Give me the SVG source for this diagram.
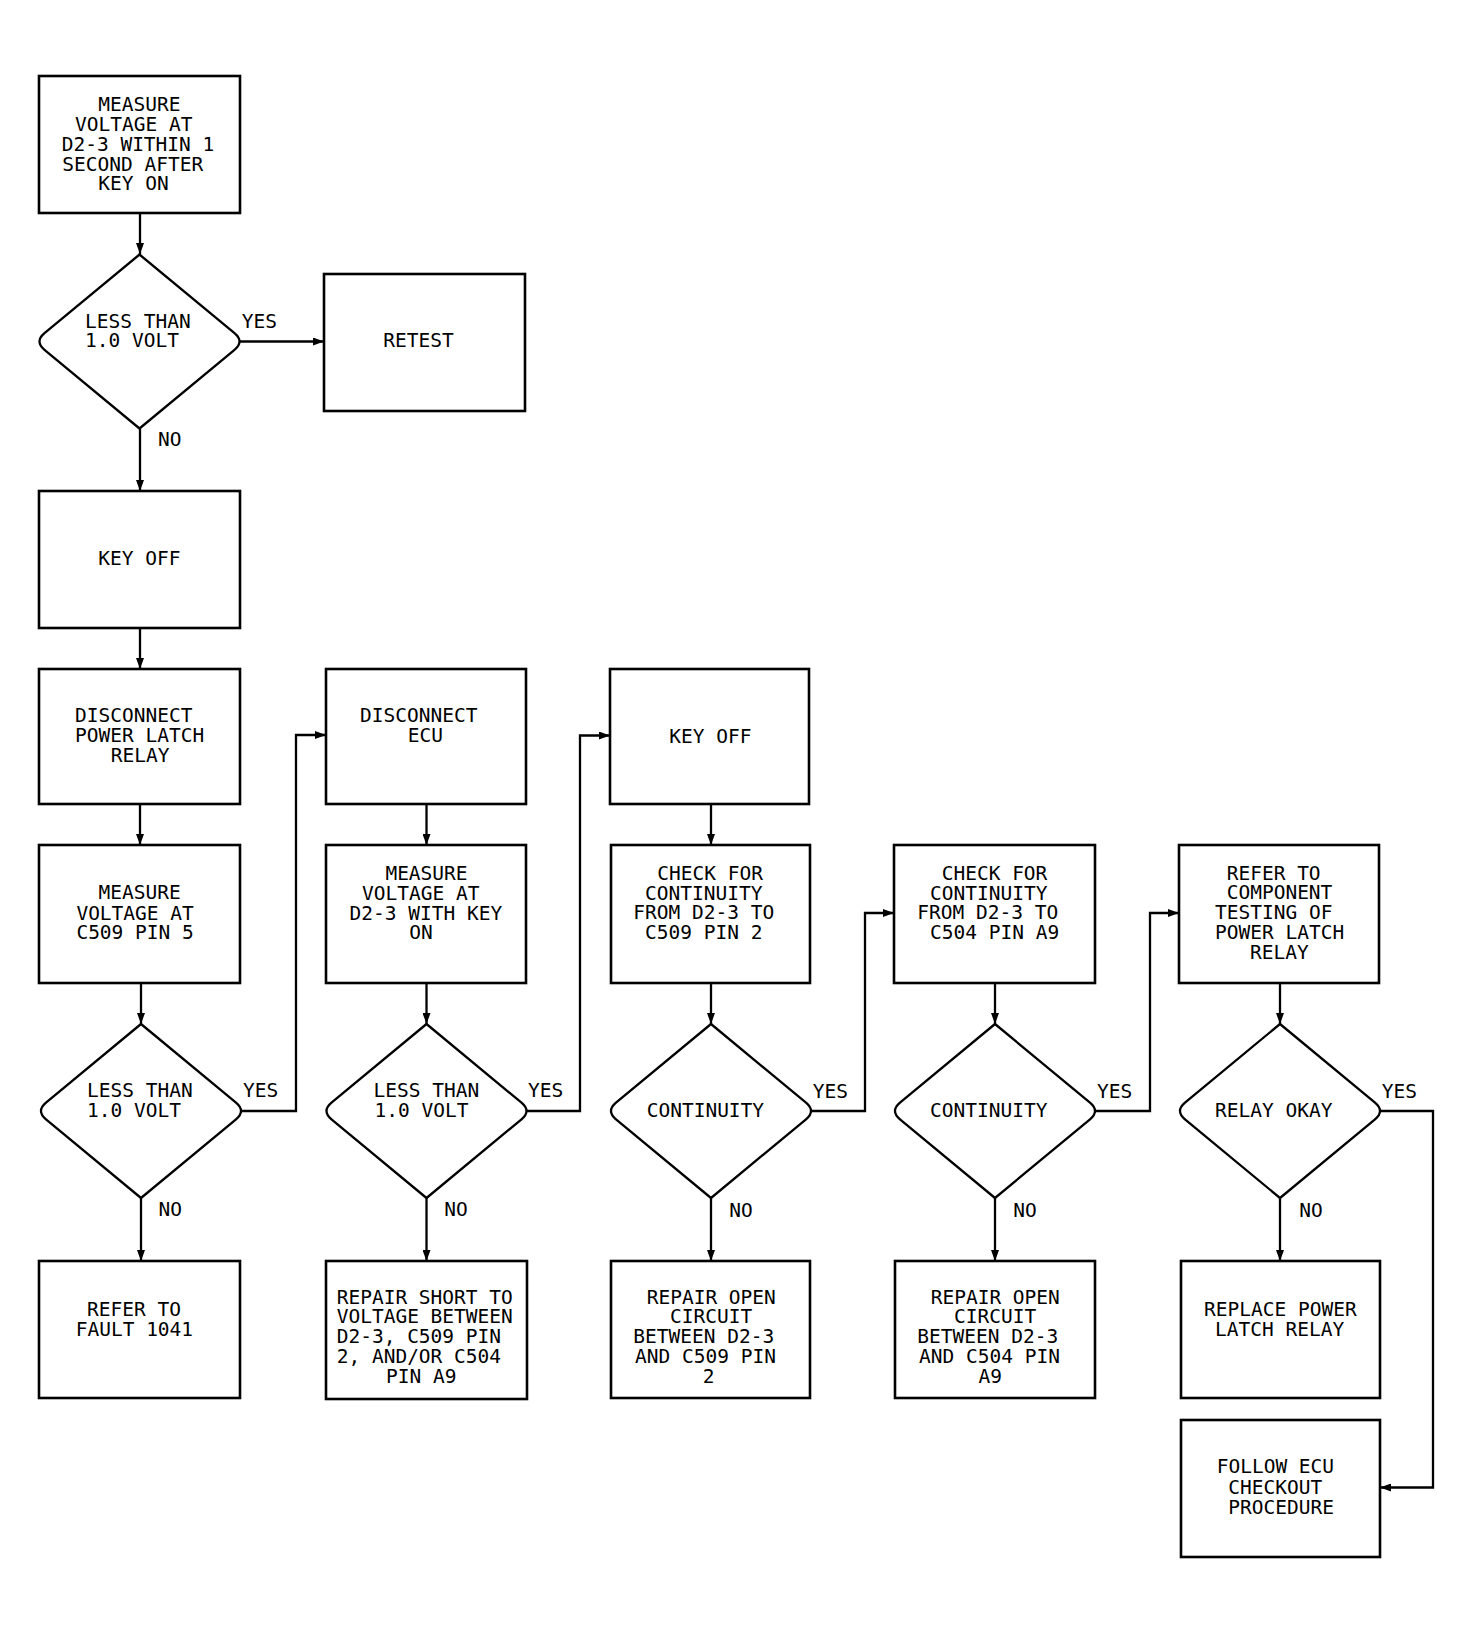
<svg xmlns="http://www.w3.org/2000/svg" width="1472" height="1634" viewBox="0 0 1472 1634">
<style>
.box{fill:#fff;stroke:#000;stroke-width:2.6}
.dia{fill:#fff;stroke:#000;stroke-width:2.3;stroke-linejoin:round}
.conn{fill:none;stroke:#000;stroke-width:2.3}
text{font-family:"DejaVu Sans Mono","Liberation Mono",monospace;font-size:19.5px;fill:#000}
</style>
<defs>
<marker id="arr" markerUnits="userSpaceOnUse" markerWidth="11" markerHeight="8" refX="11" refY="4" orient="auto">
<path d="M0,0 L11,4 L0,8 Z" fill="#000"/>
</marker>
</defs>
<rect width="1472" height="1634" fill="#fff"/>

<g id="connectors">
<path class="conn" d="M140,213 L140,254" marker-end="url(#arr)"/>
<path class="conn" d="M239.5,341.5 L324,341.5" marker-end="url(#arr)"/>
<path class="conn" d="M140,428.5 L140,491" marker-end="url(#arr)"/>
<path class="conn" d="M140,628 L140,669" marker-end="url(#arr)"/>
<path class="conn" d="M140,804 L140,845" marker-end="url(#arr)"/>
<path class="conn" d="M141,983 L141,1024" marker-end="url(#arr)"/>
<path class="conn" d="M141,1198 L141,1261" marker-end="url(#arr)"/>
<path class="conn" d="M241,1111 L296,1111 L296,735 L326,735" marker-end="url(#arr)"/>
<path class="conn" d="M426.5,804 L426.5,845" marker-end="url(#arr)"/>
<path class="conn" d="M426.5,983 L426.5,1024" marker-end="url(#arr)"/>
<path class="conn" d="M426.5,1198 L426.5,1261" marker-end="url(#arr)"/>
<path class="conn" d="M526.5,1111 L580,1111 L580,735.5 L610,735.5" marker-end="url(#arr)"/>
<path class="conn" d="M711,804 L711,845" marker-end="url(#arr)"/>
<path class="conn" d="M711,983 L711,1024" marker-end="url(#arr)"/>
<path class="conn" d="M711,1198 L711,1261" marker-end="url(#arr)"/>
<path class="conn" d="M811,1111 L865,1111 L865,913 L894,913" marker-end="url(#arr)"/>
<path class="conn" d="M995,983 L995,1024" marker-end="url(#arr)"/>
<path class="conn" d="M995,1198 L995,1261" marker-end="url(#arr)"/>
<path class="conn" d="M1095,1111 L1150,1111 L1150,913 L1179,913" marker-end="url(#arr)"/>
<path class="conn" d="M1280,983 L1280,1024" marker-end="url(#arr)"/>
<path class="conn" d="M1280,1198 L1280,1261" marker-end="url(#arr)"/>
<path class="conn" d="M1380,1111 L1433,1111 L1433,1487.5 L1380,1487.5" marker-end="url(#arr)"/>
<text x="241.7" y="328">YES</text>
<text x="158" y="446">NO</text>
<text x="243" y="1097.3">YES</text>
<text x="158.6" y="1216">NO</text>
<text x="528" y="1097.3">YES</text>
<text x="444.3" y="1216">NO</text>
<text x="812.7" y="1098.3">YES</text>
<text x="729.3" y="1216.7">NO</text>
<text x="1097" y="1098.3">YES</text>
<text x="1013.3" y="1216.7">NO</text>
<text x="1381.7" y="1098.3">YES</text>
<text x="1299.3" y="1216.7">NO</text>
</g>

<g id="n-measure-d23">
<rect class="box" x="39" y="76" width="201" height="137"/>
<text x="98.3" y="110.7">MEASURE</text>
<text x="75" y="130.7">VOLTAGE AT</text>
<text x="61.7" y="150.7">D2-3 WITHIN 1</text>
<text x="62.3" y="170.7">SECOND AFTER</text>
<text x="98.3" y="190">KEY ON</text>
</g>

<g id="n-less1">
<path class="dia" d="M139.5,254.5 L234.5,333.2 Q244.5,341.5 234.5,349.8 L139.5,428.5 L44.5,349.8 Q34.5,341.5 44.5,333.2 Z"/>
<text x="85" y="327.7">LESS THAN</text>
<text x="85" y="347.3">1.0 VOLT</text>
</g>

<g id="n-retest">
<rect class="box" x="324" y="274" width="201" height="137"/>
<text x="383.3" y="347.3">RETEST</text>
</g>

<g id="n-keyoff1">
<rect class="box" x="39" y="491" width="201" height="137"/>
<text x="98.3" y="565">KEY OFF</text>
</g>

<g id="n-disconnect-plr">
<rect class="box" x="39" y="669" width="201" height="135"/>
<text x="75" y="721.7">DISCONNECT</text>
<text x="75" y="741.7">POWER LATCH</text>
<text x="110.7" y="761.7">RELAY</text>
</g>

<g id="n-measure-c509">
<rect class="box" x="39" y="845" width="201" height="138"/>
<text x="98.6" y="899.3">MEASURE</text>
<text x="76.4" y="920">VOLTAGE AT</text>
<text x="76.4" y="939.3">C509 PIN 5</text>
</g>

<g id="n-less2">
<path class="dia" d="M141,1024 L236,1102.7 Q246,1111 236,1119.3 L141,1198 L46,1119.3 Q36,1111 46,1102.7 Z"/>
<text x="87.1" y="1097.3">LESS THAN</text>
<text x="87.1" y="1116.7">1.0 VOLT</text>
</g>

<g id="n-fault1041">
<rect class="box" x="39" y="1261" width="201" height="137"/>
<text x="87.1" y="1316">REFER TO</text>
<text x="75.7" y="1336">FAULT 1041</text>
</g>

<g id="n-disconnect-ecu">
<rect class="box" x="326" y="669" width="200" height="135"/>
<text x="360" y="721.7">DISCONNECT</text>
<text x="407.7" y="741.7">ECU</text>
</g>

<g id="n-measure-keyon">
<rect class="box" x="326" y="845" width="200" height="138"/>
<text x="385.4" y="880">MEASURE</text>
<text x="362" y="900">VOLTAGE AT</text>
<text x="349.6" y="920">D2-3 WITH KEY</text>
<text x="409.3" y="939.3">ON</text>
</g>

<g id="n-less3">
<path class="dia" d="M426.5,1024 L521.5,1102.7 Q531.5,1111 521.5,1119.3 L426.5,1198 L331.5,1119.3 Q321.5,1111 331.5,1102.7 Z"/>
<text x="373.6" y="1097.3">LESS THAN</text>
<text x="374.6" y="1116.7">1.0 VOLT</text>
</g>

<g id="n-repair-short">
<rect class="box" x="326" y="1261" width="201" height="138"/>
<text x="336.7" y="1304">REPAIR SHORT TO</text>
<text x="336.7" y="1323.3">VOLTAGE BETWEEN</text>
<text x="336.7" y="1343.3">D2-3, C509 PIN</text>
<text x="336.7" y="1362.7">2, AND/OR C504</text>
<text x="386" y="1382.7">PIN A9</text>
</g>

<g id="n-keyoff2">
<rect class="box" x="610" y="669" width="199" height="135"/>
<text x="669.3" y="742.6">KEY OFF</text>
</g>

<g id="n-check-c509">
<rect class="box" x="611" y="845" width="199" height="138"/>
<text x="657.3" y="880">CHECK FOR</text>
<text x="645" y="900">CONTINUITY</text>
<text x="633.3" y="919.3">FROM D2-3 TO</text>
<text x="645" y="939.3">C509 PIN 2</text>
</g>

<g id="n-cont1">
<path class="dia" d="M711,1024 L806,1102.7 Q816,1111 806,1119.3 L711,1198 L616,1119.3 Q606,1111 616,1102.7 Z"/>
<text x="646.7" y="1117.3">CONTINUITY</text>
</g>

<g id="n-repair-open-c509">
<rect class="box" x="611" y="1261" width="199" height="137"/>
<text x="646.7" y="1304">REPAIR OPEN</text>
<text x="670" y="1323.3">CIRCUIT</text>
<text x="633.3" y="1343.3">BETWEEN D2-3</text>
<text x="635" y="1362.7">AND C509 PIN</text>
<text x="702.7" y="1382.7">2</text>
</g>

<g id="n-check-c504">
<rect class="box" x="894" y="845" width="201" height="138"/>
<text x="941.7" y="880">CHECK FOR</text>
<text x="930" y="900">CONTINUITY</text>
<text x="917.3" y="919.3">FROM D2-3 TO</text>
<text x="930" y="939.3">C504 PIN A9</text>
</g>

<g id="n-cont2">
<path class="dia" d="M995,1024 L1090,1102.7 Q1100,1111 1090,1119.3 L995,1198 L900,1119.3 Q890,1111 900,1102.7 Z"/>
<text x="930" y="1117.3">CONTINUITY</text>
</g>

<g id="n-repair-open-c504">
<rect class="box" x="895" y="1261" width="200" height="137"/>
<text x="930.7" y="1304">REPAIR OPEN</text>
<text x="954" y="1323.3">CIRCUIT</text>
<text x="917.3" y="1343.3">BETWEEN D2-3</text>
<text x="919" y="1362.7">AND C504 PIN</text>
<text x="978.6" y="1382.7">A9</text>
</g>

<g id="n-refer-component">
<rect class="box" x="1179" y="845" width="200" height="138"/>
<text x="1226.7" y="880">REFER TO</text>
<text x="1226.7" y="899.3">COMPONENT</text>
<text x="1215" y="919.3">TESTING OF</text>
<text x="1215" y="939.3">POWER LATCH</text>
<text x="1250" y="959.3">RELAY</text>
</g>

<g id="n-relay-okay">
<path class="dia" d="M1280,1024 L1375,1102.7 Q1385,1111 1375,1119.3 L1280,1198 L1185,1119.3 Q1175,1111 1185,1102.7 Z"/>
<text x="1215" y="1117.3">RELAY OKAY</text>
</g>

<g id="n-replace-relay">
<rect class="box" x="1181" y="1261" width="199" height="137"/>
<text x="1204" y="1316">REPLACE POWER</text>
<text x="1215" y="1336">LATCH RELAY</text>
</g>

<g id="n-follow-ecu">
<rect class="box" x="1181" y="1420" width="199" height="137"/>
<text x="1216.7" y="1473.3">FOLLOW ECU</text>
<text x="1228.3" y="1494">CHECKOUT</text>
<text x="1228.3" y="1514">PROCEDURE</text>
</g>
</svg>
